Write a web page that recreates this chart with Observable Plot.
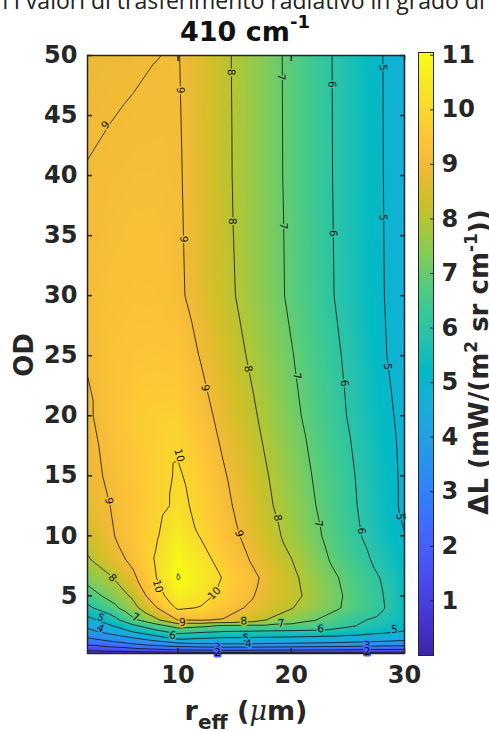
<!DOCTYPE html>
<html><head><meta charset="utf-8">
<script src="https://cdn.jsdelivr.net/npm/d3@7"></script>
<script src="https://cdn.jsdelivr.net/npm/@observablehq/plot@0.6"></script>
<style>
body{margin:0;background:#fff;}
#wrap{position:relative;width:489px;height:731px;overflow:hidden;background:#fff;}
#wrap svg{position:absolute;left:0;top:0;}
</style></head><body><div id="wrap"></div>
<script>
// effective radius (µm) columns
const rEff = [2, 4, 6, 8, 10, 12, 14, 16, 18, 20, 22, 24, 26, 28, 30];
// optical depth rows
const odRows = [0.2, 0.5, 1, 1.5, 2, 2.5, 3, 4, 5, 6.5, 8, 10, 12.5, 15, 20, 25, 30, 40, 50];
// ΔL values (mW/(m2 sr cm-1)), one row per OD, one column per r_eff
const deltaL = [
  [0.3, 0.35, 0.4, 0.45, 0.5, 0.55, 0.55, 0.55, 0.55, 0.55, 0.55, 0.55, 0.55, 0.55, 0.55],
  [1.2, 1.4, 1.6, 1.8, 2.0, 2.1, 2.15, 2.15, 2.1, 2.1, 2.05, 2.0, 1.95, 1.9, 1.85],
  [2.2, 2.6, 3.0, 3.4, 3.8, 3.95, 4.0, 4.0, 3.95, 3.9, 3.85, 3.8, 3.7, 3.6, 3.5],
  [3.0, 3.5, 4.0, 4.6, 5.3, 5.1, 4.95, 4.95, 4.9, 4.85, 4.8, 4.75, 4.65, 4.55, 4.4],
  [3.7, 4.3, 5.0, 5.7, 6.3, 6.1, 5.95, 5.9, 5.85, 5.8, 5.75, 5.6, 5.4, 5.15, 4.95],
  [4.2, 4.9, 5.8, 6.6, 7.4, 7.2, 6.85, 6.8, 6.8, 6.75, 6.7, 6.35, 5.95, 5.6, 5.2],
  [4.7, 5.5, 6.8, 7.8, 9.05, 9.1, 8.95, 8.55, 7.95, 7.5, 7.05, 6.6, 6.1, 5.8, 5.3],
  [5.8, 6.6, 7.7, 8.9, 10.15, 9.95, 9.45, 8.95, 8.5, 8.05, 7.55, 7.1, 6.6, 6.1, 5.35],
  [6.5, 7.3, 8.15, 9.6, 10.6, 10.3, 9.75, 9.2, 8.65, 8.28, 7.7, 7.15, 6.6, 6.05, 5.3],
  [7.35, 7.9, 8.8, 9.95, 11.05, 10.55, 9.95, 9.35, 8.75, 8.2, 7.6, 7.05, 6.5, 5.95, 5.25],
  [7.9, 8.55, 9.2, 10.05, 10.85, 10.35, 9.65, 9.08, 8.5, 8.02, 7.4, 6.8, 6.3, 5.7, 5.13],
  [8.35, 8.9, 9.4, 9.9, 10.55, 9.95, 9.4, 8.85, 8.3, 7.75, 7.2, 6.62, 6.05, 5.5, 5.02],
  [8.7, 9.0, 9.4, 9.75, 10.15, 9.85, 9.2, 8.7, 8.1, 7.6, 7.05, 6.5, 5.95, 5.4, 4.85],
  [8.8, 9.1, 9.45, 9.75, 10.08, 9.7, 9.08, 8.55, 8.0, 7.5, 6.95, 6.45, 5.9, 5.38, 4.85],
  [8.9, 9.3, 9.6, 9.72, 9.75, 9.3, 8.75, 8.25, 7.75, 7.22, 6.72, 6.22, 5.72, 5.25, 4.78],
  [9.05, 9.3, 9.42, 9.47, 9.43, 8.96, 8.48, 8.0, 7.52, 7.05, 6.57, 6.1, 5.62, 5.1, 4.65],
  [9.1, 9.22, 9.28, 9.27, 9.13, 8.7, 8.25, 7.78, 7.33, 6.86, 6.4, 5.95, 5.48, 5.05, 4.6],
  [9.03, 9.1, 9.15, 9.16, 9.08, 8.64, 8.17, 7.73, 7.28, 6.83, 6.37, 5.92, 5.46, 5.03, 4.58],
  [8.8, 8.87, 8.93, 8.99, 9.03, 8.6, 8.15, 7.72, 7.27, 6.82, 6.36, 5.91, 5.45, 5.02, 4.57]
];
const contourLevels = [1, 2, 3, 4, 5, 6, 7, 8, 9, 10, 11];
const xTicks = [10, 20, 30];
const yTicks = [5, 10, 15, 20, 25, 30, 35, 40, 45, 50];
const cbTicks = [1, 2, 3, 4, 5, 6, 7, 8, 9, 10, 11];
// contour labels: r_eff, OD, level, angle along the line
const labelR = [3.6, 10.2, 14.7, 19.1, 23.6, 28.1, 10.5, 14.8, 19.3, 23.7, 28.1, 12.4, 16.2, 20.5, 24.7, 28.5, 10.1, 3.9, 15.4, 18.8, 22.4, 26.2, 29.6, 4.2, 8.2, 13.2, 10.4, 15.8, 19.1, 22.6, 29.1, 6.25, 3.15, 3.15, 9.5, 16, 16.2, 13.5, 26.7, 13.5, 26.7];
const labelOD = [44.2, 47.1, 48.6, 48.2, 47.6, 49.0, 34.7, 36.2, 35.8, 35.2, 36.5, 22.3, 23.9, 23.3, 22.7, 24.1, 16.7, 12.9, 10.2, 11.5, 11.0, 10.4, 11.6, 6.5, 5.8, 5.2, 2.8, 2.9, 2.7, 2.25, 2.2, 3.2, 3.2, 2.3, 1.7, 1.5, 1.0, 0.7, 0.85, 0.3, 0.35];
const labelLevel = [9, 9, 8, 7, 6, 5, 9, 8, 7, 6, 5, 9, 8, 7, 6, 5, 10, 9, 9, 8, 7, 6, 5, 8, 10, 10, 9, 8, 7, 6, 5, 7, 5, 4, 6, 5, 4, 3, 3, 2, 2];
const labelAngle = [-52, 89, 89, 89, 89, 89, 89, 89, 89, 89, 89, 77, 79, 82, 84, 86, 75, 80, 74, 79, 82, 83, 84, 47, 75, -45, -5, -5, -4, -4, -3, 22, 28, 25, 8, -2, -1, 0, 0, 0, 0];
// parula colormap stops
const parula = ["#3e26a8","#4332cb","#4741e5","#4852f4","#4563fd","#3875fe","#2e87f7","#2796eb","#20a5e3","#12b1d6","#02bac3","#24c1ae","#37c897","#57cc7a","#81cc59","#abc739","#d1bf27","#f0ba36","#fec338","#fad62d","#f5e924","#f9fb15"];

const grid = odRows.flatMap((od, i) => rEff.map((r, j) => ({r, od, v: deltaL[i][j]})));
const labels = labelR.map((r, i) => ({r, od: labelOD[i], v: labelLevel[i], a: labelAngle[i]}));

const color = {type: "linear", domain: [0, 11], interpolate: d3.piecewise(d3.interpolateRgb, parula), clamp: true};
const baseStyle = {fontFamily: "DejaVu Sans", fontSize: "24px", fontWeight: "bold", color: "#262626", background: "transparent", overflow: "visible"};

const main = Plot.plot({
  width: 489, height: 731,
  marginLeft: 87, marginRight: 85, marginTop: 55, marginBottom: 78,
  x: {domain: [2, 30]},
  y: {domain: [0.2, 50]},
  color,
  style: baseStyle,
  marks: [
    Plot.raster(grid, {x: "r", y: "od", fill: "v", interpolate: "barycentric", pixelSize: 1}),
    Plot.contour(grid, {x: "r", y: "od", value: "v", thresholds: contourLevels, interpolate: "barycentric", pixelSize: 1, fill: "none", stroke: "#111", strokeWidth: 0.8}),
    Plot.text(labels, {x: "r", y: "od", text: "v", rotate: "a", fill: "#111", stroke: "v", strokeWidth: 3, fontSize: 10.5, fontWeight: "normal"}),
    Plot.frame({stroke: "#262626", strokeWidth: 1.5}),
    Plot.axisX(xTicks, {tickSize: 0, tickPadding: 12, label: null}),
    Plot.axisX(xTicks, {tickSize: -5, tickFormat: () => "", label: null, strokeWidth: 1.5}),
    Plot.axisX(xTicks, {anchor: "top", tickSize: -5, tickFormat: () => "", label: null, strokeWidth: 1.5}),
    Plot.axisY(yTicks, {tickSize: 0, tickPadding: 10, label: null}),
    Plot.axisY(yTicks, {tickSize: -5, tickFormat: () => "", label: null, strokeWidth: 1.5}),
    Plot.axisY(yTicks, {anchor: "right", tickSize: -5, tickFormat: () => "", label: null, strokeWidth: 1.5})
  ]
});

const bar = Plot.plot({
  width: 489, height: 731,
  marginLeft: 418, marginRight: 56, marginTop: 52, marginBottom: 76,
  x: {domain: [0, 1], axis: null},
  y: {domain: [0, 11.05]},
  color,
  style: baseStyle,
  marks: [
    Plot.raster({fill: (x, y) => y, x1: 0, x2: 1, y1: 0, y2: 11.05, width: 1, height: 400, imageRendering: "auto"}),
    Plot.frame({stroke: "#262626", strokeWidth: 1}),
    Plot.axisY(cbTicks, {anchor: "right", tickSize: -4, tickPadding: 12, tickFormat: "d", label: null})
  ]
});

const wrap = document.getElementById("wrap");
wrap.appendChild(main);
wrap.appendChild(bar);

const ns = "http://www.w3.org/2000/svg";
const over = document.createElementNS(ns, "svg");
over.setAttribute("width", 489); over.setAttribute("height", 731);
over.innerHTML = `
<text x="-6" y="9" font-family="Open Sans" font-size="23" fill="#222">n i valori di trasferimento radiativo in grado di</text>
<text x="245" y="41" text-anchor="middle" font-family="DejaVu Sans" font-weight="bold" font-size="27" fill="#111">410 cm<tspan dy="-13" font-size="18">-1</tspan></text>
<text transform="translate(33,355) rotate(-90)" text-anchor="middle" font-family="DejaVu Sans" font-weight="bold" font-size="26" fill="#262626">OD</text>
<text x="246" y="720" text-anchor="middle" font-family="DejaVu Sans" font-weight="bold" font-size="27" fill="#262626">r<tspan dy="9" font-size="20">eff</tspan><tspan dy="-9"> (</tspan><tspan font-family="DejaVu Serif" font-style="italic" font-weight="normal">μ</tspan>m)</tspan></text>
<text transform="translate(488,362) rotate(-90)" text-anchor="middle" font-family="DejaVu Sans" font-weight="bold" font-size="26" fill="#262626">ΔL (mW/(m<tspan dy="-11" font-size="17">2</tspan><tspan dy="11"> sr cm</tspan><tspan dy="-11" font-size="17">-1</tspan><tspan dy="11">))</tspan></text>`;
wrap.appendChild(over);
</script></body></html>
